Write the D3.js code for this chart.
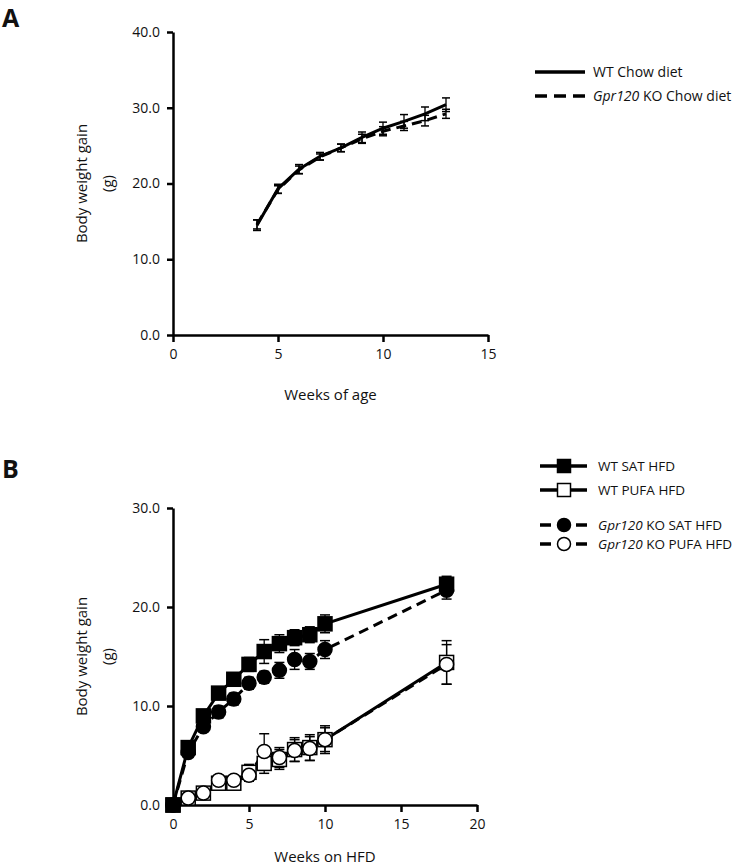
<!DOCTYPE html>
<html><head><meta charset="utf-8">
<script src="https://cdn.jsdelivr.net/npm/d3@7"></script>
<style>
body{margin:0;background:#fff;}
text{font-family:"Open Sans","Noto Sans",sans-serif;fill:#111;}
</style></head><body>
<svg id="c" width="755" height="868"></svg>
<script>
// ---- Panel A data ----
const weeksA = [4,5,6,7,8,9,10,11,12,13];
const wtChow   = [14.5,19.3,21.9,23.6,24.7,26.1,27.3,28.2,29.2,30.4];
const wtChowSE = [0.7,0.6,0.6,0.5,0.5,0.7,0.8,0.9,0.9,0.9];
const koChow   = [14.6,19.2,21.8,23.5,24.7,25.9,26.9,27.6,28.3,29.2];
const koChowSE = [0.6,0.5,0.5,0.4,0.5,0.6,0.6,0.6,0.7,0.6];
const ticksAx = [0,5,10,15];
const ticksAy = [0,10,20,30,40];
// ---- Panel B data ----
const weeksB = [0,1,2,3,4,5,6,7,8,9,10,18];
const wtSat    = [0,5.8,9.0,11.3,12.7,14.2,15.5,16.3,16.9,17.2,18.3,22.3];
const wtSatSE  = [0,0.4,0.5,0.6,0.6,0.7,1.2,0.9,0.8,0.8,0.9,0.8];
const koSat    = [0,5.3,7.9,9.4,10.7,12.3,12.9,13.6,14.7,14.5,15.7,21.7];
const koSatSE  = [0,0.4,0.5,0.6,0.6,0.6,0.6,0.8,1.0,0.8,0.9,0.9];
const wtPufa   = [0,0.7,1.2,2.2,2.2,3.3,4.2,4.6,5.6,5.8,6.6,14.4];
const wtPufaSE = [0,0.3,0.4,0.5,0.6,0.8,1.0,1.0,1.2,1.3,1.4,2.2];
const koPufa   = [0,0.7,1.2,2.5,2.5,3.0,5.4,4.8,5.5,5.7,6.6,14.2];
const koPufaSE = [0,0.3,0.4,0.5,0.5,0.6,1.8,1.0,1.1,1.2,1.2,2.0];
const ticksBx = [0,5,10,15,20];
const ticksBy = [0,10,20,30];

const svg = d3.select("#c");
const fmt = d3.format(".1f");

function axes(g, x, y, xt, yt, xTitle, titleOff){
  const ya = d3.axisLeft(y).tickValues(yt).tickFormat(fmt).tickSize(6).tickSizeOuter(0);
  const xa = d3.axisBottom(x).tickValues(xt).tickFormat(d3.format("d")).tickSize(7).tickSizeOuter(0);
  const gy = g.append("g").attr("transform",`translate(${x.range()[0]},0)`).call(ya);
  const gx = g.append("g").attr("transform",`translate(0,${y.range()[0]})`).call(xa);
  [gy,gx].forEach(a=>{
    a.select(".domain").attr("stroke","#000").attr("stroke-width",2.5);
    a.selectAll(".tick line").attr("stroke","#000").attr("stroke-width",2.5);
    a.selectAll(".tick text").attr("font-size",14).attr("font-family","Open Sans").attr("fill","#111");
  });
  gy.selectAll(".tick text").attr("x",-13);
  gx.selectAll(".tick text").attr("y",14);
  const cy = (y.range()[0]+y.range()[1])/2;
  g.append("text").attr("transform",`translate(82,${cy}) rotate(-90)`)
    .attr("text-anchor","middle").attr("font-size",15).attr("dy","0.35em").text("Body weight gain");
  g.append("text").attr("transform",`translate(108,${cy}) rotate(-90)`)
    .attr("text-anchor","middle").attr("font-size",15).attr("dy","0.35em").text("(g)");
  g.append("text").attr("x",(x.range()[0]+x.range()[1])/2).attr("y",y.range()[0]+titleOff)
    .attr("text-anchor","middle").attr("font-size",15).text(xTitle);
}

function errBars(g, x, y, xs, vals, se, cap){
  xs.forEach((w,i)=>{
    if(!se[i]) return;
    const cx=x(w), y1=y(vals[i]+se[i]), y2=y(vals[i]-se[i]);
    g.append("line").attr("x1",cx).attr("x2",cx).attr("y1",y1).attr("y2",y2).attr("stroke","#000").attr("stroke-width",1.3);
    [y1,y2].forEach(yy=>g.append("line").attr("x1",cx-cap).attr("x2",cx+cap).attr("y1",yy).attr("y2",yy).attr("stroke","#000").attr("stroke-width",1.5));
  });
}
function series(g, x, y, xs, vals, dashed){
  const line = d3.line().x((d,i)=>x(xs[i])).y(d=>y(d));
  g.append("path").attr("d",line(vals)).attr("fill","none").attr("stroke","#000")
    .attr("stroke-width",3).attr("stroke-dasharray",dashed?"10,6":null);
}

// ---- Panel A ----
const xA = d3.scaleLinear().domain([0,15]).range([173,488]);
const yA = d3.scaleLinear().domain([0,40]).range([335,32]);
const gA = svg.append("g");
gA.append("text").attr("x",2).attr("y",27).attr("font-size",25).attr("font-weight","bold").attr("font-family","Liberation Sans").text("A");
axes(gA, xA, yA, ticksAx, ticksAy, "Weeks of age", 65);
errBars(gA, xA, yA, weeksA, koChow, koChowSE, 4);
errBars(gA, xA, yA, weeksA, wtChow, wtChowSE, 4);
series(gA, xA, yA, weeksA, koChow, true);
series(gA, xA, yA, weeksA, wtChow, false);
// legend A
const legA = [{it:null,rest:"WT Chow diet",d:false,y:72},{it:"Gpr120",rest:" KO Chow diet",d:true,y:96}];
legA.forEach(l=>{
  gA.append("line").attr("x1",535).attr("x2",585).attr("y1",l.y).attr("y2",l.y).attr("stroke","#000").attr("stroke-width",3.5)
    .attr("stroke-dasharray",l.d?"12,7":null);
  const t = gA.append("text").attr("x",593).attr("y",l.y).attr("dy","0.35em").attr("font-size",14);
  if(l.it) t.append("tspan").attr("font-style","italic").text(l.it);
  t.append("tspan").text(l.rest);
});

// ---- Panel B ----
const xB = d3.scaleLinear().domain([0,20]).range([173,477]);
const yB = d3.scaleLinear().domain([0,30]).range([805,508]);
const gB = svg.append("g");
gB.append("text").attr("x",2).attr("y",478).attr("font-size",25).attr("font-weight","bold").attr("font-family","Liberation Sans").text("B");
axes(gB, xB, yB, ticksBx, ticksBy, "Weeks on HFD", 57);

const seriesB = [
  {v:wtPufa, se:wtPufaSE, dashed:false, shape:"square", fill:"#fff"},
  {v:koPufa, se:koPufaSE, dashed:true,  shape:"circle", fill:"#fff"},
  {v:koSat,  se:koSatSE,  dashed:true,  shape:"circle", fill:"#000"},
  {v:wtSat,  se:wtSatSE,  dashed:false, shape:"square", fill:"#000"}
];
seriesB.forEach(s=>errBars(gB, xB, yB, weeksB, s.v, s.se, 5));
seriesB.forEach(s=>series(gB, xB, yB, weeksB, s.v, s.dashed));
function marker(g, cx, cy, shape, fill, size){
  if(shape==="square") g.append("rect").attr("x",cx-size/2).attr("y",cy-size/2).attr("width",size).attr("height",size)
      .attr("fill",fill).attr("stroke","#000").attr("stroke-width",1.5);
  else g.append("circle").attr("cx",cx).attr("cy",cy).attr("r",size/2).attr("fill",fill).attr("stroke","#000").attr("stroke-width",1.5);
}
seriesB.forEach(s=>weeksB.forEach((w,i)=>marker(gB, xB(w), yB(s.v[i]), s.shape, s.fill, 14)));

// legend B
const legB = [
  {it:null, rest:"WT SAT HFD", d:false, shape:"square", fill:"#000", y:466},
  {it:null, rest:"WT PUFA HFD", d:false, shape:"square", fill:"#fff", y:490},
  {it:"Gpr120", rest:" KO SAT HFD", d:true, shape:"circle", fill:"#000", y:525},
  {it:"Gpr120", rest:" KO PUFA HFD", d:true, shape:"circle", fill:"#fff", y:544}
];
legB.forEach(l=>{
  if(l.d){
    gB.append("line").attr("x1",540).attr("x2",551).attr("y1",l.y).attr("y2",l.y).attr("stroke","#000").attr("stroke-width",3.5);
    gB.append("line").attr("x1",576).attr("x2",587).attr("y1",l.y).attr("y2",l.y).attr("stroke","#000").attr("stroke-width",3.5);
  } else {
    gB.append("line").attr("x1",540).attr("x2",587).attr("y1",l.y).attr("y2",l.y).attr("stroke","#000").attr("stroke-width",3.5);
  }
  marker(gB, 564, l.y, l.shape, l.fill, 13);
  const t = gB.append("text").attr("x",598).attr("y",l.y).attr("dy","0.35em").attr("font-size",13.5);
  if(l.it) t.append("tspan").attr("font-style","italic").text(l.it);
  t.append("tspan").text(l.rest);
});
</script></body></html>
